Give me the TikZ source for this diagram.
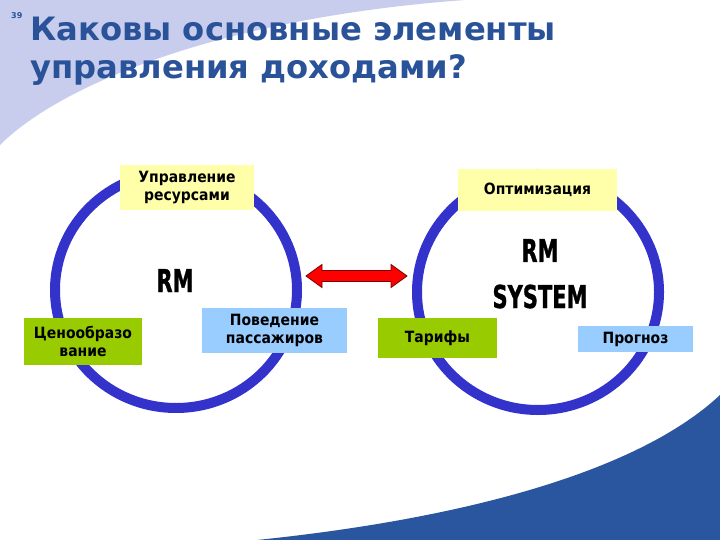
\documentclass[tikz,border=0pt]{standalone}
\usepackage{fontspec}
\usepackage{graphicx}
\setmainfont{DejaVu Sans}
\newfontfamily\boxfont{DejaVu Sans Condensed}
\newfontfamily\heavyfont[BoldFeatures={FakeBold=1.2}]{DejaVu Sans Condensed}
\usetikzlibrary{shapes.geometric,calc}
\definecolor{titleblue}{RGB}{42,82,152}
\definecolor{lavender}{RGB}{200,205,238}
\definecolor{swoosh}{RGB}{42,86,160}
\definecolor{ringblue}{RGB}{51,51,204}
\definecolor{paleyellow}{RGB}{255,255,170}
\definecolor{limegreen}{RGB}{153,204,0}
\definecolor{skyblue}{RGB}{153,204,255}
\definecolor{arrowred}{RGB}{255,0,0}
\definecolor{arrowdark}{RGB}{120,0,0}
\tikzset{
  ring/.style={ellipse, draw=ringblue, line width=10bp, inner sep=0pt},
  boxnode/.style={rectangle, inner sep=0pt, align=center,
     font=\boxfont\bfseries\fontsize{15.5bp}{18.5bp}\selectfont},
  titletext/.style={anchor=base west, inner sep=0pt, text=titleblue,
     font=\bfseries\fontsize{32.2bp}{38bp}\selectfont},
  bigtext/.style={inner sep=0pt, font=\heavyfont\bfseries\fontsize{31.5bp}{36bp}\selectfont},
  dblarrow/.style={fill=arrowred, draw=arrowdark, line width=0.8bp, line join=miter}
}
\begin{document}
\begin{tikzpicture}[x=1bp,y=-1bp]
\useasboundingbox (0,0) rectangle (720,540);
% background shapes
\fill[lavender] (0,0) -- (0,145) .. controls (60,85) and (220,18) .. (465,0) -- cycle;
\fill[swoosh] (257,540) .. controls (470,518) and (640,470) .. (720,395) -- (720,540) -- cycle;
% title
\node[anchor=base west, inner sep=0pt, text=titleblue, font=\bfseries\fontsize{8bp}{9bp}\selectfont] (num) at (11,19) {39};
\node[titletext] (t1) at (30,41) {Каковы основные элементы};
\node[titletext] (t2) at (30,79) {управления доходами?};
% rings
\node[ring, minimum width=242bp, minimum height=236bp] (L) at (176,290) {};
\node[ring, minimum width=242bp, minimum height=236bp] (R) at (538,292) {};
% boxes left
\node[boxnode, fill=paleyellow, minimum width=134bp, minimum height=45bp] (res) at (187,187.5) {Управление\\ресурсами};
\node[boxnode, fill=limegreen, minimum width=118bp, minimum height=47bp] (price) at (83,341.5) {Ценообразо\\вание};
\node[boxnode, fill=skyblue, minimum width=145bp, minimum height=45bp] (pass) at (274.5,330.5) {Поведение\\пассажиров};
% boxes right
\node[boxnode, fill=paleyellow, minimum width=159bp, minimum height=42bp] (opt) at (537.5,190) {Оптимизация};
\node[boxnode, fill=limegreen, minimum width=119bp, minimum height=40bp] (tar) at (437.5,338) {Тарифы};
\node[boxnode, fill=skyblue, minimum width=115bp, minimum height=26bp] (prog) at (635.5,339) {Прогноз};
% centre labels
\node[bigtext, anchor=base] (rm) at (175,292) {\scalebox{0.74}[1]{RM}};
\node[bigtext, anchor=base] (rm2) at (540,262) {\scalebox{0.74}[1]{RM}};
\node[bigtext, anchor=base] (sys) at (540,308) {\scalebox{0.74}[1]{SYSTEM}};
% double arrow between the rings
\coordinate (aL) at (306,276);
\coordinate (aR) at (407,276);
\draw[dblarrow] (aL) -- ++(16,-11.5) -- ++(0,6) -- ($(aR)+(-16,-5.5)$) -- ++(0,-6) -- (aR)
  -- ++(-16,11.5) -- ++(0,-6) -- ($(aL)+(16,5.5)$) -- ++(0,6) -- cycle;
\end{tikzpicture}
\end{document}
